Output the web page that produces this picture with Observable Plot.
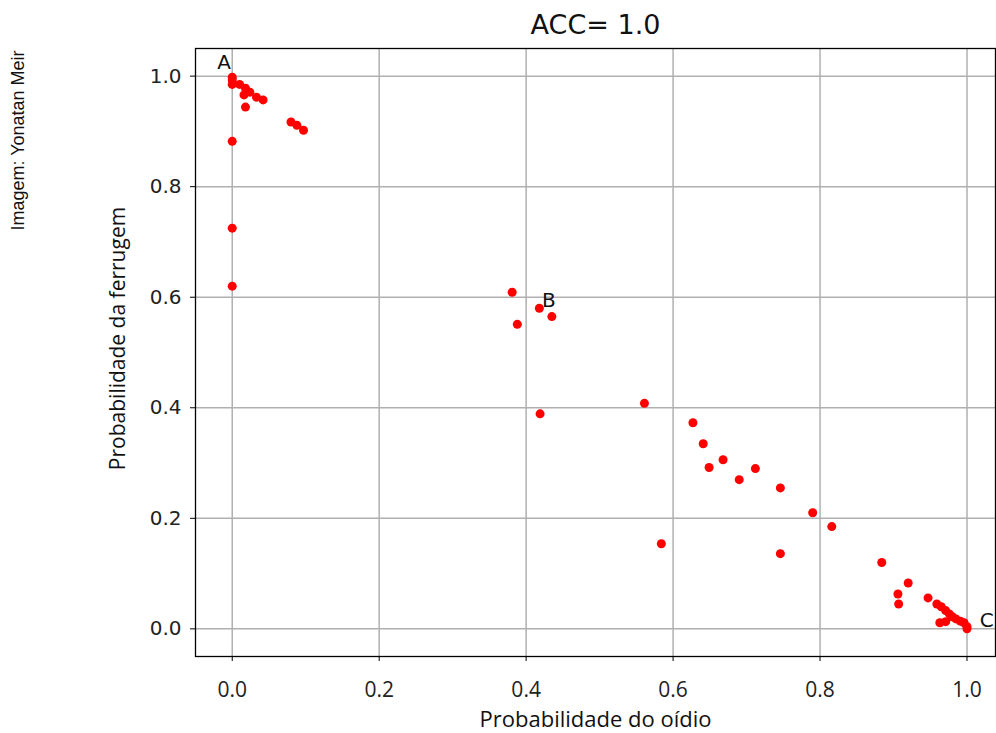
<!DOCTYPE html>
<html>
<head>
<meta charset="utf-8">
<script src="https://cdn.jsdelivr.net/npm/d3@7"></script>
<script src="https://cdn.jsdelivr.net/npm/@observablehq/plot@0.6"></script>
<style>
  html, body { margin: 0; padding: 0; background: #fff; overflow: hidden; }
  #chart svg { display: block; }
</style>
</head>
<body>
<div id="chart"></div>
<script>
// Probabilidade do oídio (x) and Probabilidade da ferrugem (y)
const oidio = [
  0.0, 0.0, 0.0, 0.01, 0.018, 0.024, 0.016, 0.033, 0.042, 0.018, 0.08, 0.088, 0.097,
  0.0, 0.0, 0.0,
  0.381, 0.418, 0.435, 0.388, 0.419,
  0.561, 0.627, 0.641, 0.668, 0.649, 0.712, 0.69, 0.746, 0.584, 0.746,
  0.79, 0.816, 0.884,
  0.92, 0.906, 0.907, 0.947, 0.959, 0.965, 0.971, 0.976, 0.98, 0.985, 0.991, 0.996, 1.0, 1.0, 0.963, 0.971
];
const ferrugem = [
  0.998, 0.993, 0.985, 0.985, 0.978, 0.971, 0.966, 0.962, 0.957, 0.944, 0.917, 0.911, 0.902,
  0.882, 0.725, 0.62,
  0.609, 0.58, 0.565, 0.551, 0.389,
  0.408, 0.373, 0.335, 0.306, 0.292, 0.29, 0.27, 0.255, 0.154, 0.136,
  0.21, 0.185, 0.12,
  0.083, 0.063, 0.045, 0.056, 0.045, 0.04, 0.033, 0.027, 0.022, 0.018, 0.014, 0.011, 0.004, 0.0, 0.011, 0.013
];
const pointLabels = ["A", "B", "C"];
const labelX = [-0.011, 0.431, 1.027];
const labelY = [1.024, 0.594, 0.015];
const tickValues = [0, 0.2, 0.4, 0.6, 0.8, 1.0];
const titleText = "ACC= 1.0";
const xLabel = "Probabilidade do oídio";
const yLabel = "Probabilidade da ferrugem";
const credit = "Imagem: Yonatan Meir";

const points = oidio.map((x, i) => ({x, y: ferrugem[i]}));
const labels = pointLabels.map((t, i) => ({t, x: labelX[i], y: labelY[i]}));

const fmt = d3.format(".1f");
const plot = Plot.plot({
  width: 996,
  height: 733,
  marginLeft: 195,
  marginRight: 1,
  marginTop: 48,
  marginBottom: 77,
  x: {domain: [-0.05, 1.0388]},
  y: {domain: [-0.05, 1.05]},
  style: {background: "white", overflow: "visible"},
  marks: [
    Plot.gridX(tickValues, {stroke: "#b0b0b0", strokeOpacity: 1, strokeWidth: 1.5}),
    Plot.gridY(tickValues, {stroke: "#b0b0b0", strokeOpacity: 1, strokeWidth: 1.5}),
    Plot.frame({stroke: "#000", strokeWidth: 1.3}),
    Plot.axisX(tickValues, {tickFormat: fmt, tickSize: 5, tickPadding: 21, fontSize: 21, fontFamily: "Open Sans", fill: "#222", stroke: "#000", label: null}),
    Plot.axisY(tickValues, {tickFormat: fmt, tickSize: 5, tickPadding: 9, fontSize: 20, fontFamily: "DejaVu Sans", fill: "#222", stroke: "#000", label: null}),
    Plot.dot(points, {x: "x", y: "y", r: 4.5, fill: "#ff0000", stroke: "none"}),
    Plot.text(labels, {x: "x", y: "y", text: "t", fontSize: 20, fontFamily: "DejaVu Sans", fill: "#111"}),
    Plot.text([titleText], {frameAnchor: "top", dy: -34, fontSize: 27, fontFamily: "DejaVu Sans", fill: "#111"}),
    Plot.text([xLabel], {frameAnchor: "bottom", dy: 70, fontSize: 22, fontFamily: "Open Sans", fill: "#111"}),
    Plot.text([yLabel], {frameAnchor: "left", textAnchor: "middle", dx: -77, dy: -14, rotate: -90, fontSize: 21, fontFamily: "Open Sans", fill: "#111"}),
    Plot.text([credit], {frameAnchor: "top-left", textAnchor: "middle", dx: -184, dy: 92, rotate: -90, fontSize: 18, fontFamily: "Liberation Sans", fill: "#111"})
  ]
});
document.getElementById("chart").appendChild(plot);
</script>
</body>
</html>
